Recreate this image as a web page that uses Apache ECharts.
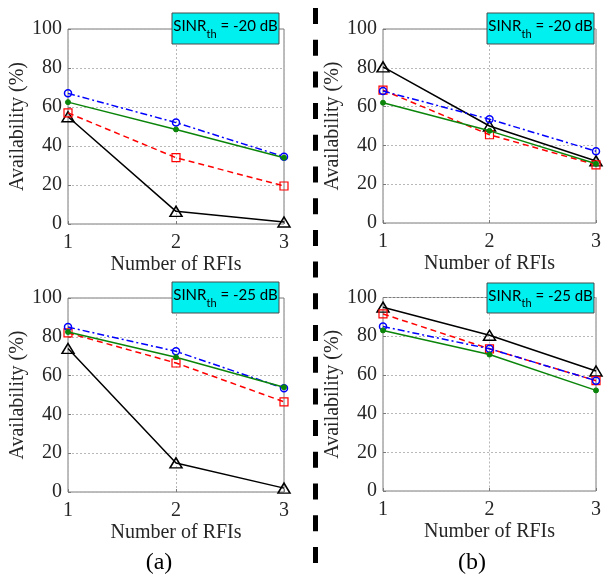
<!DOCTYPE html>
<html>
<head>
<meta charset="utf-8">
<script src="https://cdn.jsdelivr.net/npm/echarts@6/dist/echarts.min.js"></script>
<style>
html,body{margin:0;padding:0;background:#fff;}
#chart{width:604px;height:574px;}
</style>
</head>
<body>
<div id="chart"></div>
<script>
// x categories (Number of RFIs)
const rfis = [1, 2, 3];
const yTicks = [0, 20, 40, 60, 80, 100];

// Panel (a), SINR_th = -20 dB
const a20_black = [55, 6.5, 1];
const a20_red   = [57, 34, 19.5];
const a20_blue  = [67, 52, 34.5];
const a20_green = [62.5, 48.5, 34];

// Panel (b), SINR_th = -20 dB
const b20_black = [80.5, 50, 32];
const b20_red   = [68.5, 45.5, 30];
const b20_blue  = [68, 53.5, 37];
const b20_green = [62, 47.5, 30.5];

// Panel (a), SINR_th = -25 dB
const a25_black = [74, 15, 2];
const a25_red   = [82, 66.5, 46.5];
const a25_blue  = [85, 72.5, 53.5];
const a25_green = [82.5, 69.5, 54];

// Panel (b), SINR_th = -25 dB
const b25_black = [95, 80.5, 62];
const b25_red   = [91.5, 73.5, 57];
const b25_blue  = [85, 73.5, 57];
const b25_green = [83, 70.5, 52];

const panelLabels = ['-20 dB', '-20 dB', '-25 dB', '-25 dB'];
const subLabels = ['(a)', '(b)'];

const panels = [
  {black: a20_black, red: a20_red, blue: a20_blue, green: a20_green},
  {black: b20_black, red: b20_red, blue: b20_blue, green: b20_green},
  {black: a25_black, red: a25_red, blue: a25_blue, green: a25_green},
  {black: b25_black, red: b25_red, blue: b25_blue, green: b25_green}
];

const grids = [
  {left: 68, top: 29, width: 216, height: 195},
  {left: 383, top: 29, width: 216, height: 194},
  {left: 68, top: 298, width: 216, height: 194},
  {left: 383, top: 297.5, width: 216, height: 193.5}
];

const boxes = [
  {x: 172, y: 13, w: 107, h: 31},
  {x: 487, y: 13, w: 107, h: 31},
  {x: 172, y: 282, w: 107, h: 31},
  {x: 487, y: 283, w: 107, h: 30}
];

const serif = '"Liberation Serif", "Times New Roman", serif';
const txtColor = '#262626';

const option = {
  animation: false,
  backgroundColor: '#fff',
  grid: grids.map(g => Object.assign({show: true, borderColor: '#7a7a7a', borderWidth: 1, backgroundColor: 'transparent', containLabel: false}, g)),
  xAxis: grids.map((g, i) => ({
    gridIndex: i, type: 'value', min: 1, max: 3, interval: 1,
    name: 'Number of RFIs', nameLocation: 'middle', nameGap: 31,
    nameTextStyle: {fontFamily: serif, fontSize: 20, color: txtColor},
    axisLine: {show: false},
    axisTick: {show: true, inside: true, length: 3, lineStyle: {color: '#7a7a7a'}},
    axisLabel: {fontFamily: serif, fontSize: 20, color: txtColor, margin: 9},
    splitLine: {show: true, lineStyle: {color: '#b8b8b8', type: [2, 2], width: 1}}
  })),
  yAxis: grids.map((g, i) => ({
    gridIndex: i, type: 'value', min: 0, max: 100, interval: 20,
    name: 'Availability (%)', nameLocation: 'middle', nameGap: 40,
    nameTextStyle: {fontFamily: serif, fontSize: 20, color: txtColor},
    axisLine: {show: false},
    axisTick: {show: true, inside: true, length: 3, lineStyle: {color: '#7a7a7a'}},
    axisLabel: {fontFamily: serif, fontSize: 20, color: txtColor, margin: 6},
    splitLine: {show: true, lineStyle: {color: '#b8b8b8', type: [2, 2], width: 1}}
  })),
  series: [],
  graphic: []
};

panels.forEach((p, i) => {
  const mk = arr => rfis.map((x, k) => [x, arr[k]]);
  option.series.push({
    type: 'line', xAxisIndex: i, yAxisIndex: i, data: mk(p.black), z: 2,
    lineStyle: {color: '#000', width: 1.5, type: 'solid'},
    symbol: 'triangle', symbolSize: [12, 10],
    itemStyle: {color: 'rgba(0,0,0,0)', borderColor: '#000', borderWidth: 1.5}
  });
  option.series.push({
    type: 'line', xAxisIndex: i, yAxisIndex: i, data: mk(p.red), z: 3,
    lineStyle: {color: '#ff0000', width: 1.5, type: [6, 4]},
    symbol: 'rect', symbolSize: 8,
    itemStyle: {color: 'rgba(0,0,0,0)', borderColor: '#ff0000', borderWidth: 1.2}
  });
  option.series.push({
    type: 'line', xAxisIndex: i, yAxisIndex: i, data: mk(p.blue), z: 4,
    lineStyle: {color: '#0000ff', width: 1.5, type: [7, 3, 2, 3]},
    symbol: 'circle', symbolSize: 7,
    itemStyle: {color: 'rgba(0,0,0,0)', borderColor: '#0000ff', borderWidth: 1.5}
  });
  option.series.push({
    type: 'line', xAxisIndex: i, yAxisIndex: i, data: mk(p.green), z: 5,
    lineStyle: {color: '#0a850a', width: 1.5, type: 'solid'},
    symbol: 'circle', symbolSize: 5,
    itemStyle: {color: '#0a850a', borderColor: '#0a850a', borderWidth: 1}
  });

  const b = boxes[i];
  option.graphic.push({
    type: 'rect', z: 100,
    shape: {x: b.x, y: b.y, width: b.w, height: b.h},
    style: {fill: '#00f0f0', stroke: '#4a4a4a', lineWidth: 1}
  });
  option.graphic.push({
    type: 'text', z: 101,
    x: b.x + b.w / 2, y: b.y + b.h / 2 - 2,
    style: {
      text: '{a|SINR}{s|th}{a| = ' + panelLabels[i] + '}',
      align: 'center', verticalAlign: 'middle',
      rich: {
        a: {fontFamily: 'Lato, "Open Sans", sans-serif', fontSize: 15, lineHeight: 26, verticalAlign: 'middle', fill: '#000'},
        s: {fontFamily: 'Lato, "Open Sans", sans-serif', fontSize: 11, lineHeight: 10, verticalAlign: 'bottom', fill: '#000'}
      }
    }
  });
});

// divider
option.graphic.push({
  type: 'line', z: 100,
  shape: {x1: 315.5, y1: 8, x2: 315.5, y2: 572},
  style: {stroke: '#000', lineWidth: 5, lineDash: [16, 15.7]}
});
// sub labels
option.graphic.push({
  type: 'text', z: 100, x: 159, y: 563,
  style: {text: subLabels[0], font: '24px ' + serif, fill: '#000', align: 'center', verticalAlign: 'middle'}
});
option.graphic.push({
  type: 'text', z: 100, x: 472, y: 563,
  style: {text: subLabels[1], font: '24px ' + serif, fill: '#000', align: 'center', verticalAlign: 'middle'}
});

const chart = echarts.init(document.getElementById('chart'), null, {renderer: 'canvas'});
chart.setOption(option);
</script>
</body>
</html>
